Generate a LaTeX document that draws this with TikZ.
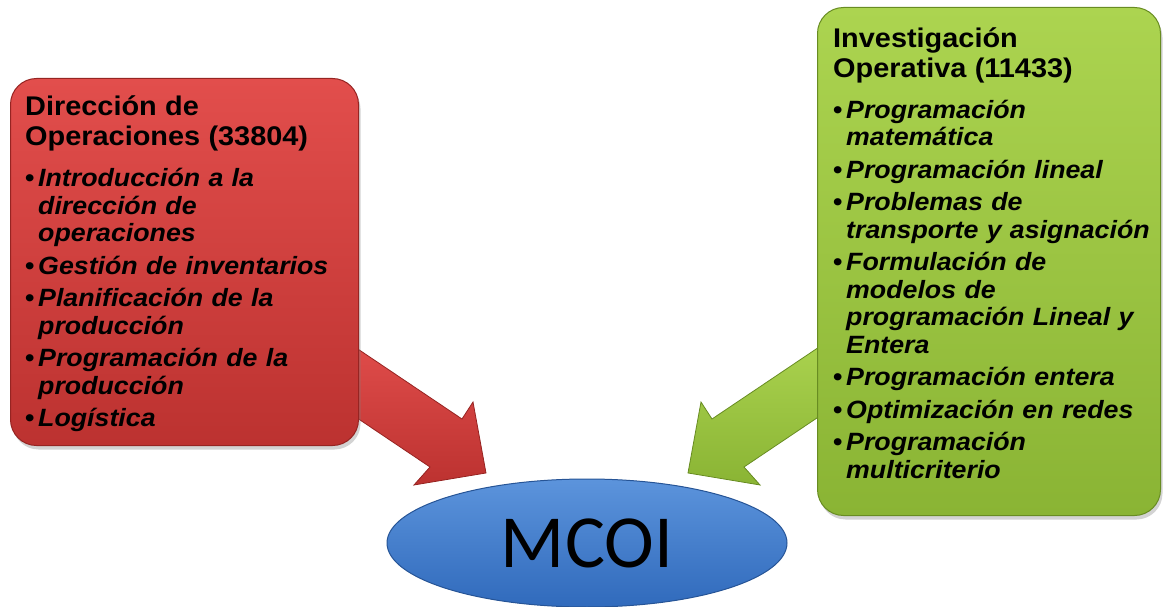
\documentclass[tikz,border=0pt]{standalone}
\usepackage{fontspec}
\setmainfont{Liberation Sans}[FakeStretch=1.07]
\newfontfamily\carlito{Carlito}
\usetikzlibrary{shapes.geometric,shadows}

\definecolor{rojoA}{RGB}{226,78,76}
\definecolor{rojoB}{RGB}{188,50,48}
\definecolor{rojoL}{RGB}{150,36,34}
\definecolor{verdeA}{RGB}{172,212,80}
\definecolor{verdeB}{RGB}{138,180,52}
\definecolor{verdeL}{RGB}{104,140,34}
\definecolor{azulA}{RGB}{92,148,220}
\definecolor{azulB}{RGB}{48,106,188}
\definecolor{azulL}{RGB}{38,84,150}

\newcommand{\titulo}[1]{{\fontsize{27}{30}\selectfont #1\par}\vspace{9pt}}
\newcommand{\tema}[1]{\par\vspace{5pt}\hangindent=13pt\hangafter=1\noindent
  \hspace*{0pt}\makebox[13pt][l]{\textbullet}\textit{#1}}

\tikzset{
  caja/.style={rectangle, rounded corners=26pt, line width=1pt,
    drop shadow={shadow xshift=2pt, shadow yshift=-4pt, opacity=0.35}},
  texto/.style={anchor=north west, inner sep=0pt, text width=350pt,
    font=\fontsize{25}{27.5}\selectfont\bfseries},
  flecha/.style={line width=0.8pt, line join=miter}
}

\begin{document}
\begin{tikzpicture}[x=1pt,y=-1pt]
  \useasboundingbox (0,0) rectangle (1163,607);
  % flechas
  \coordinate (rtip) at (486,473);
  \coordinate (vtip) at (688,473);
  \draw[flecha, draw=rojoL, top color=rojoA, bottom color=rojoB]
    (337,335) -- (462,419) -- (473,402) -- (rtip) --
    (414,485) -- (430,467) -- (305,383) -- cycle;
  \draw[flecha, draw=verdeL, top color=verdeA, bottom color=verdeB]
    (837,335) -- (712,419) -- (701,402) -- (vtip) --
    (760,485) -- (744,467) -- (869,383) -- cycle;
  % cajas
  \node[caja, draw=rojoL, top color=rojoA, bottom color=rojoB,
    minimum width=348pt, minimum height=367pt, anchor=north west] (dir) at (10,78) {};
  \node[caja, draw=verdeL, top color=verdeA, bottom color=verdeB,
    minimum width=343pt, minimum height=508pt, anchor=north west] (inv) at (817,7) {};
  \node[texto] (dirtxt) at (25,95) {\raggedright
    \titulo{Dirección de\newline Operaciones (33804)}
    \tema{Introducción a la\newline dirección de\newline operaciones}
    \tema{Gestión de inventarios}
    \tema{Planificación de la\newline producción}
    \tema{Programación de la\newline producción}
    \tema{Logística}\par};
  \node[texto] (invtxt) at (833,27) {\raggedright
    \titulo{Investigación\newline Operativa (11433)}
    \tema{Programación\newline matemática}
    \tema{Programación lineal}
    \tema{Problemas de\newline transporte y asignación}
    \tema{Formulación de\newline modelos de\newline programación Lineal y\newline Entera}
    \tema{Programación entera}
    \tema{Optimización en redes}
    \tema{Programación\newline multicriterio}\par};
  % elipse
  \node[ellipse, draw=azulL, line width=1pt, top color=azulA, bottom color=azulB,
    minimum width=400pt, minimum height=128pt, inner sep=0pt,
    font=\carlito\fontsize{75}{80}\selectfont] (mcoi) at (587,543) {MCOI};
\end{tikzpicture}
\end{document}
